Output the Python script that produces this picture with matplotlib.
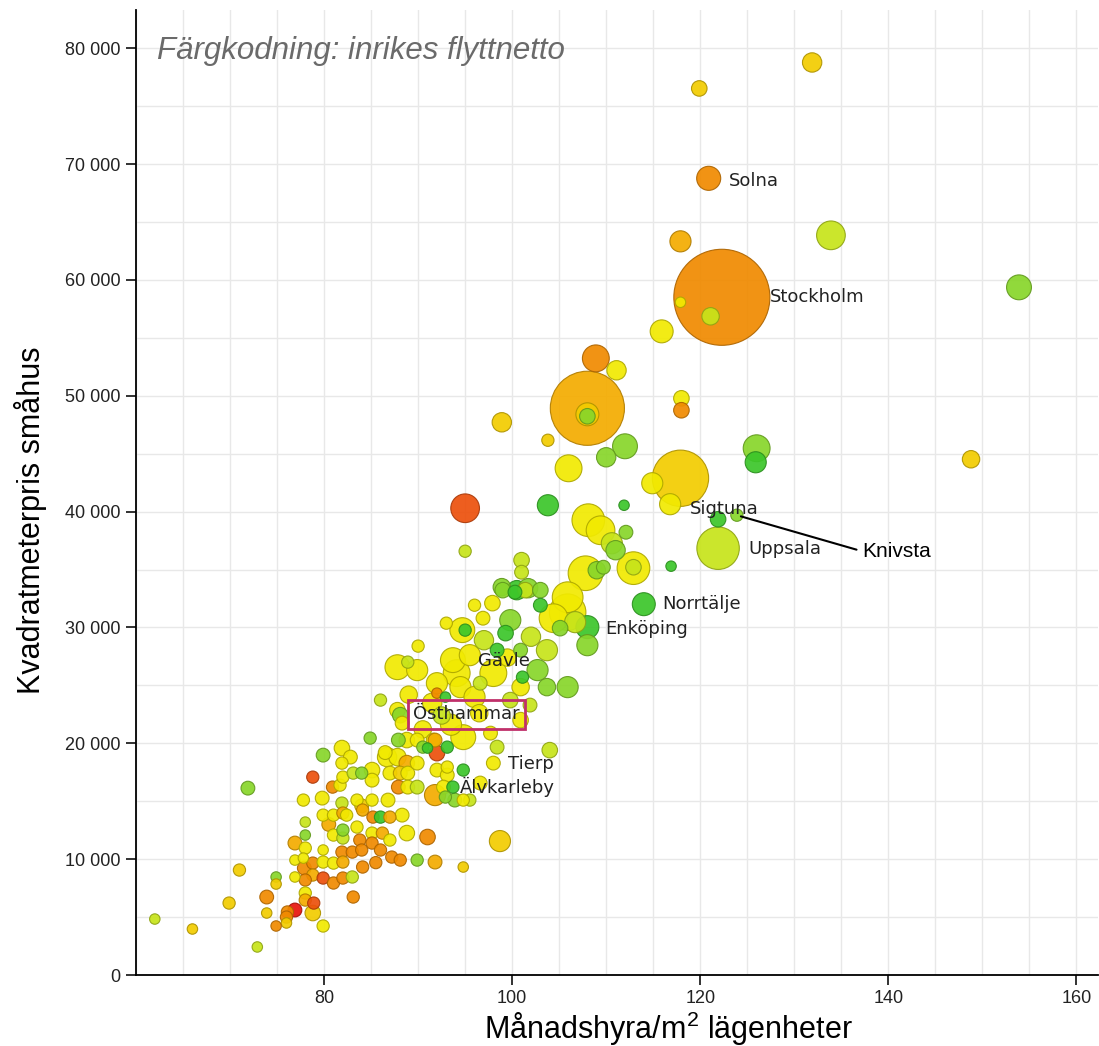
import numpy as np
import matplotlib.pyplot as plt
from matplotlib.colors import LinearSegmentedColormap
from matplotlib.ticker import FuncFormatter

plt.rcParams['mathtext.fontset'] = 'custom'
plt.rcParams['mathtext.rm'] = 'Liberation Sans'

# Månadshyra kr/m2 (x), kvadratmeterpris småhus (y), invånare i tusental, inrikes flyttnetto (färgklass -4..4)
hyra = [
    131.9, 119.9, 120.9, 117.9, 133.9, 153.9, 122.3, 117.9, 121.1, 115.9,
    108.9, 111.1, 108.0, 108.0, 108.0, 118.0, 118.0, 98.9, 103.8, 112.0,
    110.0, 106.0, 117.9, 114.9, 116.8, 126.0, 125.9, 148.8, 95.0, 95.0,
    103.8, 111.9, 121.9, 123.9, 121.9, 108.1, 109.4, 110.6, 111.0, 112.1,
    116.9, 107.8, 109.0, 109.7, 112.9, 112.9, 114.0, 108.0, 108.0, 105.9,
    104.4, 106.7, 101.0, 101.0, 99.0, 100.3, 101.4, 103.0, 103.0, 97.9,
    96.0, 99.8, 99.3, 105.1, 94.7, 95.0, 93.0, 96.9, 98.4, 100.9,
    103.7, 93.7, 95.5, 90.0, 87.8, 88.9, 89.9, 98.0, 102.7, 105.9,
    103.7, 101.1, 92.0, 94.5, 92.0, 92.9, 86.0, 87.8, 88.1, 91.6,
    92.0, 93.1, 90.5, 94.8, 98.0, 104.0, 94.8, 98.7, 94.8, 88.8,
    87.9, 89.9, 91.8, 91.0, 84.9, 94.1, 96.6, 100.9, 100.9, 97.7,
    98.4, 93.1, 96.6, 95.5, 99.8, 101.9, 71.9, 77.8, 79.8, 81.9,
    80.9, 81.7, 79.9, 81.0, 82.0, 78.0, 78.0, 81.0, 82.0, 76.9,
    78.0, 79.9, 81.9, 83.0, 76.9, 77.8, 77.9, 78.8, 79.9, 81.0,
    82.0, 78.8, 79.9, 81.0, 82.0, 83.0, 76.9, 74.9, 74.9, 78.0,
    78.0, 78.0, 78.9, 73.9, 73.9, 71.0, 69.9, 83.1, 76.9, 76.1,
    76.0, 76.0, 78.8, 79.9, 74.9, 66.0, 62.0, 72.9, 88.3, 81.9,
    79.9, 82.8, 78.8, 81.9, 82.0, 83.1, 84.0, 85.1, 85.1, 86.7,
    87.8, 88.8, 87.0, 88.1, 88.9, 89.9, 87.9, 88.9, 89.9, 92.0,
    93.1, 92.7, 93.7, 91.8, 92.9, 93.9, 94.8, 83.5, 85.1, 86.8,
    82.4, 84.1, 85.2, 86.0, 87.0, 88.3, 83.5, 83.8, 85.1, 85.1,
    86.2, 87.0, 88.8, 91.0, 84.0, 86.0, 87.2, 88.1, 89.9, 91.8,
    84.1, 82.0, 98.9, 100.5, 101.7, 105.9, 91.5, 96.5, 93.5, 97.0,
    90.5, 86.5, 92.5, 99.5, 102.0, 96.0, 89.0, 84.0, 80.5, 85.5,
]
pris = [
    78770, 76530, 68770, 63330, 63850, 59360, 58500, 58070, 56860, 55560,
    53230, 52200, 48920, 48400, 48230, 49780, 48750, 47710, 46160, 45640,
    44690, 43740, 42880, 42450, 40640, 45470, 44260, 44520, 40290, 36580,
    40550, 40550, 39340, 39690, 36840, 39260, 38390, 37270, 36670, 38220,
    35290, 34680, 34940, 35200, 35120, 35200, 32010, 30030, 28470, 31320,
    30800, 30460, 35810, 34770, 33220, 33050, 33220, 33220, 31920, 32100,
    31920, 30630, 29510, 29940, 29770, 29770, 30370, 30800, 28040, 28040,
    28040, 27180, 27610, 28390, 26570, 27010, 26320, 26060, 26320, 24850,
    24850, 25710, 25190, 24850, 24330, 23990, 23730, 22860, 22430, 20280,
    19150, 19670, 19670, 20530, 18290, 19410, 17690, 11560, 9320, 20280,
    20280, 20280, 20280, 19590, 20450, 26060, 25190, 24850, 22000, 20880,
    19670, 17950, 16570, 15100, 23730, 23300, 16130, 15100, 15270, 14840,
    16220, 16390, 13800, 13800, 13980, 13200, 12080, 12080, 11820, 11390,
    10960, 10790, 10610, 10610, 9920, 10090, 9230, 9660, 9750, 9660,
    9750, 8630, 8370, 7940, 8370, 8460, 8460, 8460, 7850, 8200,
    7080, 6470, 6210, 6730, 5350, 9060, 6210, 6730, 5610, 5440,
    5000, 4490, 5350, 4230, 4230, 3970, 4830, 2420, 21740, 19590,
    18980, 18810, 17080, 18290, 17080, 17430, 17430, 17690, 16820, 18810,
    18810, 18290, 17430, 17430, 17430, 18290, 16220, 16220, 16220, 17690,
    17260, 16220, 16220, 15530, 15360, 15100, 15100, 15100, 15100, 15100,
    13800, 14240, 13630, 13630, 13630, 13800, 12770, 11650, 12250, 11390,
    12250, 11650, 12250, 11910, 10790, 10790, 10180, 9920, 9920, 9750,
    9320, 12510, 33480, 33220, 33390, 32610, 23500, 22600, 21600, 28900,
    21200, 19200, 22400, 27400, 29200, 24000, 24200, 14600, 13000, 9700,
]
invanare = [
    32, 19, 52, 39, 76, 56, 900, 6, 25, 47,
    66, 32, 534, 47, 19, 19, 19, 32, 10, 56,
    32, 66, 306, 39, 39, 66, 39, 25, 76, 10,
    39, 6, 19, 10, 172, 100, 76, 39, 32, 14,
    6, 113, 25, 14, 100, 19, 47, 47, 39, 126,
    76, 39, 19, 14, 19, 14, 19, 19, 14, 19,
    10, 39, 19, 19, 56, 10, 10, 14, 14, 14,
    39, 56, 39, 10, 56, 10, 39, 66, 39, 39,
    25, 10, 39, 39, 6, 6, 10, 19, 19, 14,
    19, 10, 10, 56, 14, 19, 10, 39, 6, 19,
    14, 14, 14, 6, 10, 66, 14, 25, 19, 14,
    14, 10, 14, 10, 19, 14, 14, 10, 14, 10,
    10, 10, 10, 10, 10, 6, 6, 10, 10, 14,
    10, 6, 10, 10, 6, 6, 14, 10, 10, 10,
    10, 10, 10, 10, 10, 10, 6, 6, 6, 10,
    10, 10, 10, 14, 6, 10, 10, 10, 14, 10,
    10, 6, 19, 10, 6, 6, 6, 6, 14, 19,
    14, 14, 10, 10, 10, 10, 10, 19, 14, 32,
    25, 19, 14, 14, 14, 14, 14, 14, 14, 14,
    14, 14, 10, 39, 10, 14, 10, 10, 10, 14,
    10, 10, 10, 10, 10, 14, 10, 10, 10, 10,
    10, 10, 19, 19, 10, 10, 10, 10, 10, 14,
    10, 10, 25, 32, 32, 88, 32, 25, 39, 32,
    25, 14, 25, 25, 32, 39, 25, 14, 14, 10,
]
flyttnetto = [
    0, 0, -2, -1, 2, 3, -2, 1, 2, 1,
    -2, 1, -1, 0, 3, 1, -2, 0, 0, 3,
    3, 1, 0, 1, 1, 3, 4, 0, -3, 2,
    4, 4, 4, 3, 2, 1, 1, 2, 3, 3,
    4, 1, 3, 3, 1, 2, 4, 4, 3, 1,
    1, 2, 2, 2, 3, 4, 2, 3, 4, 1,
    1, 3, 4, 3, 1, 4, 1, 1, 4, 3,
    2, 1, 1, 1, 1, 2, 1, 1, 3, 3,
    3, 4, 1, 1, -2, 4, 2, 1, 3, 1,
    -3, 4, 3, 1, 1, 2, 4, 0, 0, 1,
    3, 1, -1, 4, 3, 1, 2, 1, 1, 1,
    2, 1, 1, 2, 2, 2, 3, 1, 1, 2,
    -2, 1, 1, 1, -1, 2, 3, 1, 2, -1,
    1, 1, -2, -2, 1, 1, -2, -2, 1, 1,
    -1, -1, -3, -2, -2, 2, 1, 3, 0, -2,
    1, -1, -3, -2, 0, 0, 0, -2, -4, -2,
    -2, 0, 0, 1, -2, 0, 2, 2, 1, 1,
    3, 1, -3, 1, 1, 2, 3, 1, 1, 1,
    1, -1, 1, 0, 1, 1, -2, 1, 2, 1,
    1, 1, 4, -1, 3, 3, 1, 1, 1, 1,
    1, -1, -2, 4, -1, 1, 1, -2, 1, -2,
    -1, 1, 1, -2, -2, -2, -2, -2, 3, -1,
    -2, 3, 3, 4, 3, 1, 1, 1, 1, 2,
    1, 1, 2, 1, 2, 1, 1, 0, -1, -2,
]

# namngivna kommuner: (namn, x, y)
etiketter = [
    ("Solna", 123.0, 68510),
    ("Stockholm", 127.4, 58500),
    ("Sigtuna", 118.9, 40210),
    ("Uppsala", 125.1, 36760),
    ("Norrtälje", 116.0, 32010),
    ("Enköping", 109.9, 29850),
    ("Gävle", 96.4, 27090),
    ("Tierp", 99.6, 18200),
    ("Älvkarleby", 94.4, 16220),
]

assert len(hyra) == len(pris) == len(invanare) == len(flyttnetto)

x = np.array(hyra)
y = np.array(pris)
pop = np.array(invanare, dtype=float)
netto = np.array(flyttnetto, dtype=float)

cmap = LinearSegmentedColormap.from_list("flytt", [
    "#e8140c", "#ec500c", "#f08a00", "#f4ac00", "#f2cc00",
    "#f2ea00", "#c8e41a", "#8ad62a", "#3cc62a"])
face = cmap((netto + 4) / 8)
edge = [tuple(c * 0.72 for c in f[:3]) for f in face]

# radie i pixlar, area ~ invånare, med en minsta storlek
r_px = np.sqrt(12 + 2.55 * pop)
storlek = (1.44 * r_px) ** 2

order = np.argsort(-pop, kind="stable")

fig = plt.figure(figsize=(10.99, 10.46), dpi=100)
ax = fig.add_axes([136 / 1099, 1 - 975 / 1046, (1098 - 136) / 1099, (975 - 10) / 1046])

ax.scatter(x[order], y[order], s=storlek[order], c=face[order],
           edgecolors=[edge[i] for i in order], linewidths=0.8, alpha=0.92, zorder=3)

ax.set_xlim(60, 162.3)
ax.set_ylim(0, 83300)

ax.set_xticks(np.arange(80, 161, 20))
ax.set_xticks(np.arange(60, 163, 5), minor=True)
ax.set_yticks(np.arange(0, 80001, 10000))
ax.set_yticks(np.arange(0, 83001, 5000), minor=True)
ax.yaxis.set_major_formatter(FuncFormatter(lambda v, p: f"{int(v):,}".replace(",", " ")))
ax.grid(True, which="both", color="#e8e8e8", lw=1, zorder=0)
ax.set_axisbelow(True)

for s in ["top", "right"]:
    ax.spines[s].set_visible(False)
for s in ["left", "bottom"]:
    ax.spines[s].set_linewidth(1.3)
ax.tick_params(which="major", length=7, width=1.3, labelsize=13, colors="#222222",
               direction="out", pad=4)
ax.tick_params(which="minor", length=0)
for lab in ax.get_xticklabels() + ax.get_yticklabels():
    lab.set_family("Liberation Sans")

ax.set_ylabel("Kvadratmeterpris småhus", fontsize=22, family="Liberation Sans")
ax.yaxis.set_label_coords(-0.092, 0.4715)
ax.set_xlabel("Månadshyra/m$^2$ lägenheter", fontsize=22, family="Liberation Sans")
ax.xaxis.set_label_coords(0.553, -0.036)

ax.text(0.0218, 0.949, "Färgkodning: inrikes flyttnetto", transform=ax.transAxes,
        fontsize=22.5, style="italic", color="#6a6a6a", family="Liberation Sans",
        va="baseline", ha="left")

for namn, lx, ly in etiketter:
    ax.text(lx, ly, namn, fontsize=13, color="#222222", va="center", ha="left",
            family="DejaVu Sans", zorder=5)

ax.text(89.5, 22520, "Östhammar", fontsize=13, color="#222222", va="center", ha="left",
        family="DejaVu Sans", zorder=5,
        bbox=dict(boxstyle="square,pad=0.3", fc="none", ec="#c0306a", lw=2))

ax.annotate("Knivsta", xy=(123.9, 39690), xytext=(137.2, 36580), fontsize=15,
            family="Liberation Sans", va="center", ha="left", zorder=5,
            arrowprops=dict(arrowstyle="-", color="black", lw=1.5, relpos=(0, 0.5),
                            shrinkA=2, shrinkB=3))

fig.savefig("out.png", dpi=100)
